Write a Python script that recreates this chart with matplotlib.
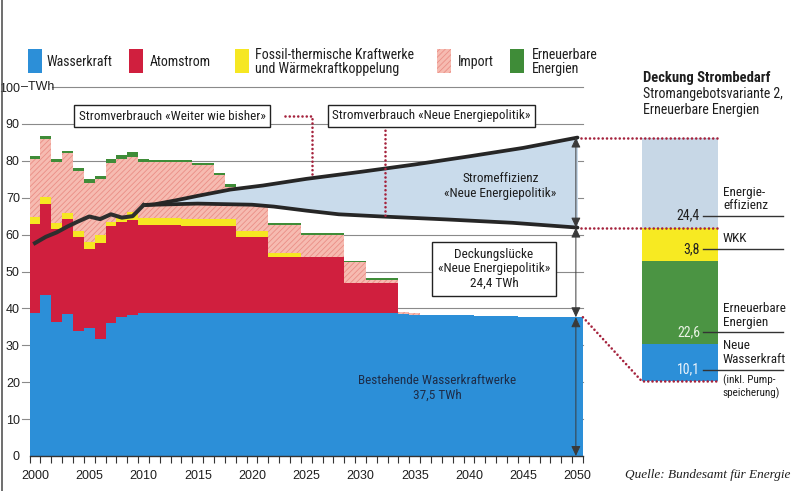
import numpy as np
import matplotlib
matplotlib.use('Agg')
import matplotlib.pyplot as plt
from matplotlib import font_manager
from matplotlib.patches import Rectangle
from matplotlib.lines import Line2D


def pick(names):
    for n in names:
        try:
            font_manager.findfont(n, fallback_to_default=False)
            return n
        except Exception:
            pass
    return 'DejaVu Sans'


NARROW = pick(['Liberation Sans Narrow', 'Roboto Condensed', 'Roboto', 'DejaVu Sans'])
SANS = pick(['Liberation Sans', 'Roboto', 'DejaVu Sans'])
SERIF = pick(['Liberation Serif', 'DejaVu Serif'])

# ---- data (TWh) ----
years = np.arange(2000, 2051)

wasserkraft = [38.7, 43.5, 36.2, 38.4, 34.0, 34.6, 31.6, 36.1, 37.7, 38.3,
               38.7, 38.7, 38.7, 38.7, 38.7, 38.7, 38.7, 38.7, 38.7, 38.7,
               38.7, 38.7, 38.7, 38.7, 38.7, 38.7, 38.7, 38.7, 38.7, 38.7,
               38.7, 38.7, 38.7, 38.7, 38.4, 38.3, 38.3, 38.2, 38.2, 38.1,
               38.1, 38.0, 38.0, 37.9, 37.9, 37.8, 37.8, 37.7, 37.7, 37.6,
               37.6]
atomstrom = [24.3, 24.8, 25.3, 25.7, 25.4, 21.4, 26.0, 26.3, 25.8, 25.7,
             23.9, 23.9, 23.9, 23.9, 23.7, 23.7, 23.7, 23.7, 23.7, 20.7,
             20.7, 20.7, 15.3, 15.3, 15.3, 15.3, 15.3, 15.3, 15.3, 8.3,
             8.3, 8.3, 8.3, 8.3, 0, 0, 0, 0, 0, 0,
             0, 0, 0, 0, 0, 0, 0, 0, 0, 0,
             0]
fossil = [1.9, 1.8, 1.7, 1.7, 1.7, 2.1, 2.3, 1.1, 1.2, 2.2,
          1.8, 1.8, 1.8, 1.8, 1.8, 1.8, 1.8, 1.8, 1.8, 1.6,
          1.6, 1.6, 1.1, 1.1, 1.1, 0, 0, 0, 0, 0,
          0, 0, 0, 0, 0, 0, 0, 0, 0, 0,
          0, 0, 0, 0, 0, 0, 0, 0, 0, 0,
          0]
importe = [15.6, 15.8, 16.5, 16.2, 16.1, 16.0, 15.1, 15.8, 15.7, 14.9,
           15.4, 15.3, 15.3, 15.3, 15.5, 14.7, 14.7, 11.9, 8.8, 10.0,
           10.0, 10.0, 7.5, 7.5, 7.5, 6.0, 6.0, 6.0, 6.0, 5.5,
           5.5, 0.7, 0.7, 0.7, 0.6, 0.4, 0, 0, 0, 0,
           0, 0, 0, 0, 0, 0, 0, 0, 0, 0,
           0]
erneuerbare = [0.9, 0.9, 0.8, 0.7, 0.8, 0.9, 0.9, 1.2, 1.2, 1.2,
               0.7, 0.6, 0.6, 0.6, 0.6, 0.6, 0.6, 0.7, 0.6, 0.5,
               0.5, 0.5, 0.6, 0.6, 0.6, 0.5, 0.5, 0.5, 0.5, 0.4,
               0.4, 0.5, 0.5, 0.5, 0, 0, 0, 0, 0, 0,
               0, 0, 0, 0, 0, 0, 0, 0, 0, 0,
               0]

hist_years = [2000, 2001, 2002, 2003, 2004, 2005, 2006, 2007, 2008, 2009, 2010]
hist_vals = [57.7, 59.4, 60.6, 62.2, 63.6, 64.9, 64.2, 65.5, 64.6, 65.0, 68.0]

upper_years = [2010, 2011, 2013, 2015, 2018, 2021, 2023, 2025, 2030, 2035, 2040, 2045, 2050]
upper_vals = [68.0, 68.2, 69.3, 70.5, 72.2, 73.3, 74.2, 75.1, 77.0, 79.0, 81.2, 83.5, 86.3]

lower_years = [2010, 2011, 2015, 2020, 2022, 2025, 2028, 2032, 2038, 2044, 2050]
lower_vals = [68.0, 68.1, 68.4, 68.1, 67.6, 66.5, 65.5, 64.9, 64.1, 63.2, 61.9]

deck_names = ['Energie-\neffizienz', 'WKK', 'Erneuerbare\nEnergien', 'Neue\nWasserkraft']
deck_values = [24.4, 3.8, 22.6, 10.1]
deck_colors = ['#c7d7e6', '#f7ea22', '#4b9443', '#2c8fd8']
deck_text_colors = ['#222222', '#222222', '#e9f2e4', '#eef4fb']

legend_labels = ['Wasserkraft', 'Atomstrom', 'Fossil-thermische Kraftwerke\nund Wärmekraftkoppelung',
                 'Import', 'Erneuerbare\nEnergien']

C_BLUE = '#2c8fd8'
C_RED = '#d01f3e'
C_YEL = '#f6e722'
C_PINK = '#f6bbb1'
C_PINK_H = '#ea8e86'
C_GREEN = '#3f8c38'
C_AREA = '#c9dbeb'
C_DOT = '#a5233d'
C_TXT = '#1e1e1e'

plt.rcParams['hatch.linewidth'] = 0.6

W, H = 799, 491
fig = plt.figure(figsize=(W / 100, H / 100), dpi=100)
fig.patch.set_facecolor('white')


def fx(px):
    return px / W


def fy(py):
    return 1 - py / H


ax = fig.add_axes([fx(29.575), fy(456), fx(795) - fx(29.575), fy(87) - fy(456)])
ax.set_xlim(1999.5, 1999.5 + (795 - 29.575) / 10.85)
ax.set_ylim(0, 100)
for s in ax.spines.values():
    s.set_visible(False)
ax.patch.set_alpha(0)

# gridlines
for v in range(10, 100, 10):
    ax.plot([1998.8, 2050.5], [v, v], color='#8a8a8a', lw=0.8, zorder=1, clip_on=False)
ax.plot([2001.6, 2050.5], [100, 100], color='#8a8a8a', lw=0.8, zorder=1, clip_on=False)

# stacked yearly blocks, drawn as filled stairs (no seams between years)
edges = np.append(years - 0.5, years[-1] + 0.5)
bottom = np.zeros(len(years))
series = [(wasserkraft, C_BLUE, None), (atomstrom, C_RED, None), (fossil, C_YEL, None),
          (importe, C_PINK, '//////'), (erneuerbare, C_GREEN, None)]
for vals, col, hatch in series:
    top = bottom + np.array(vals, dtype=float)
    if hatch:
        ax.stairs(top, edges, baseline=bottom, fill=True, facecolor=col, edgecolor=C_PINK_H,
                  hatch=hatch, linewidth=0, zorder=2)
    else:
        ax.stairs(top, edges, baseline=bottom, fill=True, facecolor=col, edgecolor='none',
                  linewidth=0, zorder=2)
    bottom = top

# efficiency wedge
xs = np.unique(np.concatenate([upper_years, lower_years]))
up_i = np.interp(xs, upper_years, upper_vals)
lo_i = np.interp(xs, lower_years, lower_vals)
ax.fill_between(xs, lo_i, up_i, color=C_AREA, lw=0, zorder=3)
ax.plot(upper_years, upper_vals, color='#262626', lw=2.7, zorder=4, solid_capstyle='round')
ax.plot(lower_years, lower_vals, color='#262626', lw=2.7, zorder=4, solid_capstyle='round')
ax.plot(hist_years, hist_vals, color='#2e2e2e', lw=2.9, zorder=4, solid_joinstyle='round')

# axis ticks
ax.set_xticks(np.arange(2000, 2051, 5))
ax.set_xticklabels([str(y) for y in range(2000, 2051, 5)], fontfamily=SANS, fontsize=9, color=C_TXT)
ax.set_xticks(np.arange(1999.5, 2051, 1), minor=True)
ax.tick_params(axis='x', which='major', length=0, pad=10)
ax.tick_params(axis='x', which='minor', length=5, width=0.8, color='#333333', direction='out')
ax.plot([1999.5, 2050.5], [0, 0], color='#333333', lw=1.0, zorder=6, clip_on=False)

ax.set_yticks(range(0, 101, 10))
ax.set_yticklabels([str(v) for v in range(0, 101, 10)], fontfamily=SANS, fontsize=9, color=C_TXT)
ax.tick_params(axis='y', length=0, pad=7)
ax.text(1998.75, 100, '–TWh', ha='left', va='center', fontfamily=SANS, fontsize=9, color=C_TXT)

# dotted red guide lines
dot = dict(color=C_DOT, lw=1.9, linestyle=(0, (0.01, 1.6)), dash_capstyle='round', zorder=5, clip_on=False)
x1 = 2025.5
ax.plot([2023.0, x1, x1], [92.1, 92.1, np.interp(x1, upper_years, upper_vals)], **dot)
x2 = 2032.3
ax.plot([x2, x2], [89.4, np.interp(x2, lower_years, lower_vals)], **dot)

# right bar (Deckung Strombedarf)
bx0, bx1 = 2055.95, 2062.95
shown = [max(v, 9.0) for v in deck_values]
top = upper_vals[-1]
lead_x0, lead_x1 = 2061.6, 2068.9
for i, (name, v, h, col, tcol) in enumerate(zip(deck_names, deck_values, shown, deck_colors, deck_text_colors)):
    b = top - h
    ax.add_patch(Rectangle((bx0, b), bx1 - bx0, h, facecolor=col, edgecolor='none', zorder=2, clip_on=False))
    ly = b + min(h * 0.45, 3.2)
    ax.text(2061.3, ly, f'{v:.1f}'.replace('.', ','), ha='right', va='center', fontfamily=NARROW,
            fontsize=10, color=tcol, zorder=6)
    ax.plot([lead_x0, lead_x1], [ly, ly], color='#333333', lw=1.0, zorder=6, clip_on=False)
    ax.text(2063.4, ly + 1.0, name, ha='left', va='bottom', fontfamily=NARROW, fontsize=9.5,
            color=C_TXT, linespacing=1.05, zorder=6)
    if i == len(deck_names) - 1:
        ax.text(2063.4, ly - 1.4, '(inkl. Pump-\nspeicherung)', ha='left', va='top',
                fontfamily=NARROW, fontsize=8, color=C_TXT, linespacing=1.1, zorder=6)
    top = b
bar_bottom = top

ax.plot([2050.3, bx1], [upper_vals[-1]] * 2, **dot)
ax.plot([2050.3, bx1], [lower_vals[-1]] * 2, **dot)
ax.plot([2050.5, bx0, bx1], [wasserkraft[-1], bar_bottom, bar_bottom], **dot)

# double arrows at 2050
ax_x = 2049.85
for a, b in [(upper_vals[-1], lower_vals[-1]), (lower_vals[-1], wasserkraft[-1]), (wasserkraft[-1], 0)]:
    ax.annotate('', xy=(ax_x, a), xytext=(ax_x, b),
                arrowprops=dict(arrowstyle='<|-|>,head_length=0.6,head_width=0.28', color='#3a3a3a',
                                lw=0.7, shrinkA=0, shrinkB=0), zorder=6)

# annotation boxes / texts
box = dict(boxstyle='square,pad=0.35', facecolor='white', edgecolor='#222222', lw=1.0)
ax.text(2012.63, 92.1, 'Stromverbrauch «Weiter wie bisher»', ha='center', va='center',
        fontfamily=NARROW, fontsize=9.5, color=C_TXT, bbox=box, zorder=7)
ax.text(2036.54, 92.2, 'Stromverbrauch «Neue Energiepolitik»', ha='center', va='center',
        fontfamily=NARROW, fontsize=9.5, color=C_TXT, bbox=box, zorder=7)
ax.text(2042.3, 50.7, 'Deckungslücke\n«Neue Energiepolitik»\n24,4 TWh', ha='center', va='center',
        fontfamily=NARROW, fontsize=9.5, color=C_TXT, linespacing=1.15,
        bbox=dict(boxstyle='square,pad=0.45', facecolor='white', edgecolor='#222222', lw=1.0), zorder=7)
ax.text(2042.9, 73.2, 'Stromeffizienz\n«Neue Energiepolitik»', ha='center', va='center',
        fontfamily=NARROW, fontsize=9.5, color=C_TXT, linespacing=1.2, zorder=7)
ax.text(2037.05, 18.4, 'Bestehende Wasserkraftwerke\n37,5 TWh', ha='center', va='center',
        fontfamily=NARROW, fontsize=9.5, color='#1d2c48', linespacing=1.2, zorder=7)

# legend
leg_x = [(28, 47), (129, 150), (235, 255), (437, 458), (510, 532)]
leg_colors = [C_BLUE, C_RED, C_YEL, C_PINK, C_GREEN]
for (px0, tx), lab, col in zip(leg_x, legend_labels, leg_colors):
    kw = dict(facecolor=col, edgecolor='none', lw=0)
    if col == C_PINK:
        kw = dict(facecolor=col, edgecolor=C_PINK_H, hatch='//////', lw=0)
    fig.add_artist(Rectangle((fx(px0), fy(73)), 14 / W, 24 / H, transform=fig.transFigure, **kw))
    fig.text(fx(tx), fy(62), lab, ha='left', va='center', fontfamily=NARROW, fontsize=10,
             color=C_TXT, linespacing=1.05)

# right panel header
fig.text(fx(643), fy(78), 'Deckung Strombedarf', ha='left', va='center', fontfamily=NARROW,
         fontsize=10.5, fontweight='bold', color=C_TXT)
fig.text(fx(643), fy(102), 'Stromangebotsvariante 2,\nErneuerbare Energien', ha='left', va='center',
         fontfamily=NARROW, fontsize=10, color=C_TXT, linespacing=1.1)

fig.text(fx(790), fy(475), 'Quelle: Bundesamt für Energie', ha='right', va='center', fontfamily=SERIF,
         fontstyle='italic', fontsize=9.5, color=C_TXT)

fig.add_artist(Line2D([fx(1.5), fx(1.5)], [0, 1], transform=fig.transFigure, color='#555555', lw=1.2))

fig.savefig('out.png', dpi=100)
